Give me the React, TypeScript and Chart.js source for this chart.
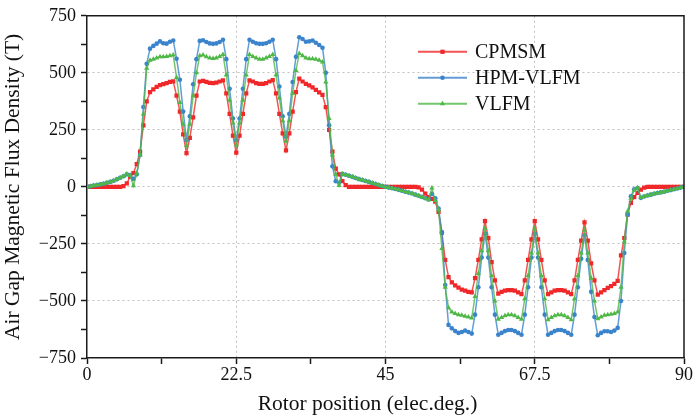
import React, { useEffect, useRef } from 'react';
import { Chart, registerables } from 'chart.js';

Chart.register(...registerables);

// Rotor position sampled every 0.5 elec.deg. from 0 to 90 (181 samples)
const angleStepDeg = 0.5;

const seriesNames = ['CPMSM', 'HPM-VLFM', 'VLFM'];

// Air gap flux density (T), 10 samples (5 deg) per row
const cpmsm = [
  0, 0, 0, 0, 0, 0, 0, 0, 0, 0,
  0, 3, 15, 45, 60, 100, 155, 270, 375, 415,
  428, 438, 446, 450, 455, 460, 463, 400, 330, 230,
  148, 215, 305, 400, 462, 465, 460, 456, 455, 457,
  462, 467, 410, 320, 225, 150, 225, 320, 410, 467,
  462, 455, 452, 452, 455, 462, 468, 410, 320, 235,
  160, 235, 330, 415, 475, 462, 452, 445, 436, 425,
  414, 403, 350, 250, 155, 80, 55, 25, 8, 0,
  0, 0, 0, 0, 0, 0, 0, 0, 0, 0,
  0, 0, 0, 0, 0, 0, 0, 0, 0, 0,
  -2, -12, -30, -45, -52, -65, -110, -200, -320, -395,
  -418, -432, -442, -450, -455, -460, -462, -400, -320, -230,
  -150, -225, -330, -410, -468, -460, -455, -452, -452, -455,
  -462, -470, -410, -320, -230, -150, -230, -320, -410, -470,
  -462, -455, -452, -452, -455, -462, -470, -410, -320, -235,
  -155, -235, -335, -410, -472, -462, -452, -443, -435, -425,
  -412, -300, -224, -121, -70, -45, -26, -12, -3, 0,
  0, 0, 0, 0, 0, 0, 0, 0, 0, 0,
  0,
];

const hpmVlfm = [
  0, 3, 6, 8, 11, 14, 18, 22, 27, 33,
  40, 47, 55, 52, 35, 55, 140, 350, 540, 606,
  618, 628, 638, 630, 628, 636, 642, 562, 470, 330,
  205, 310, 450, 560, 640, 643, 635, 629, 627, 629,
  635, 645, 560, 430, 300, 205, 300, 430, 560, 645,
  636, 630, 627, 627, 630, 636, 645, 560, 440, 310,
  220, 320, 460, 570, 656, 648, 636, 638, 642, 632,
  622, 610, 500, 270, 90, 25, 18, 57, 53, 49,
  44, 39, 34, 30, 26, 22, 17, 13, 8, 4,
  0, -3, -6, -9, -13, -17, -21, -25, -29, -34,
  -39, -44, -50, -55, -30, -50, -95, -200, -430, -605,
  -620, -632, -640, -636, -630, -636, -643, -560, -440, -310,
  -205, -310, -440, -560, -648, -640, -632, -627, -627, -632,
  -640, -648, -560, -440, -310, -205, -310, -440, -560, -648,
  -640, -632, -627, -627, -632, -640, -648, -560, -440, -315,
  -212, -320, -460, -570, -650, -640, -633, -633, -636, -630,
  -618, -500, -290, -121, -41, -10, -5, -48, -42, -38,
  -34, -30, -27, -24, -21, -17, -14, -10, -7, -3,
  0,
];

const vlfm = [
  0, 3, 6, 8, 11, 14, 18, 22, 27, 33,
  40, 47, 56, 50, 5, 60, 140, 320, 520, 555,
  560, 565, 570, 570, 572, 575, 578, 480, 370, 275,
  182, 275, 400, 500, 575, 578, 570, 565, 563, 565,
  572, 580, 490, 380, 280, 185, 280, 380, 490, 580,
  572, 565, 560, 560, 565, 572, 580, 490, 390, 290,
  200, 290, 410, 510, 585, 575, 565, 562, 562, 560,
  555, 548, 460, 300, 140, 55, 6, 57, 53, 49,
  44, 39, 34, 30, 26, 22, 17, 13, 8, 4,
  0, -3, -6, -9, -13, -17, -21, -25, -29, -34,
  -39, -44, -50, -56, -5, -60, -100, -270, -440, -530,
  -548, -555, -560, -563, -567, -570, -575, -480, -380, -280,
  -182, -280, -390, -500, -580, -572, -565, -560, -560, -565,
  -572, -580, -490, -390, -290, -185, -290, -390, -490, -582,
  -572, -565, -560, -560, -565, -572, -582, -490, -390, -290,
  -190, -290, -400, -500, -578, -570, -563, -560, -558, -555,
  -548, -440, -240, -107, -50, -15, -4, -46, -42, -38,
  -34, -30, -27, -24, -21, -17, -14, -10, -7, -3,
  0,
];

const angles = cpmsm.map((_, i) => i * angleStepDeg);

const xMin = 0;
const xMax = 90;
const xMinorStep = 11.25;
const xLabelStep = 22.5;
const yMin = -750;
const yMax = 750;
const yMinorStep = 125;
const yLabelStep = 250;

const xTitle = 'Rotor position (elec.deg.)';
const yTitle = 'Air Gap Magnetic Flux Density (T)';

const colors = ['#f0282a', '#3b84cc', '#4fb847'];
const lineColors = ['rgba(240,40,42,0.8)', 'rgba(59,132,204,0.8)', 'rgba(79,184,71,0.8)'];
const pointStyles = ['rect', 'circle', 'triangle'];
const pointRadii = [3, 2.3, 3];
const gridColor = 'rgba(185,185,185,0.9)';

const FONT = '"Liberation Serif", "Times New Roman", serif';

function drawMarker(ctx: CanvasRenderingContext2D, style: string, x: number, y: number, r: number, color: string) {
  ctx.fillStyle = color;
  ctx.beginPath();
  if (style === 'rect') {
    const s = r * Math.SQRT1_2;
    ctx.rect(x - s, y - s, 2 * s, 2 * s);
  } else if (style === 'circle') {
    ctx.arc(x, y, r, 0, Math.PI * 2);
  } else {
    ctx.moveTo(x, y - r);
    ctx.lineTo(x + r * 0.866, y + r * 0.5);
    ctx.lineTo(x - r * 0.866, y + r * 0.5);
    ctx.closePath();
  }
  ctx.fill();
}

const overlayPlugin = {
  id: 'overlay',
  afterDraw(chart: any) {
    const { ctx, chartArea } = chart;
    const { left, right, top, bottom } = chartArea;
    ctx.save();
    // frame: top & right
    ctx.strokeStyle = '#1a1a1a';
    ctx.lineWidth = 1.5;
    ctx.beginPath();
    ctx.moveTo(left, top);
    ctx.lineTo(right, top);
    ctx.lineTo(right, bottom);
    ctx.stroke();

    // x title
    ctx.fillStyle = '#111';
    ctx.font = `21.5px ${FONT}`;
    ctx.textAlign = 'center';
    ctx.textBaseline = 'middle';
    ctx.fillText(xTitle, (left + right) / 2 - 18, 404);

    // legend inside plot
    const lx0 = left + 331;
    const lx1 = left + 380;
    const ly0 = top + 36;
    const rowH = 26;
    ctx.font = `20px ${FONT}`;
    ctx.textAlign = 'left';
    seriesNames.forEach((name, i) => {
      const y = ly0 + i * rowH;
      ctx.strokeStyle = lineColors[i];
      ctx.lineWidth = 2;
      ctx.beginPath();
      ctx.moveTo(lx0, y);
      ctx.lineTo(lx1, y);
      ctx.stroke();
      drawMarker(ctx, pointStyles[i], (lx0 + lx1) / 2, y, pointRadii[i], colors[i]);
      ctx.fillStyle = '#111';
      ctx.fillText(name, lx1 + 8, y + 1);
    });
    ctx.restore();
  },
};

export default function App() {
  const canvasRef = useRef<HTMLCanvasElement | null>(null);

  useEffect(() => {
    const canvas = canvasRef.current;
    if (!canvas) return;
    const seriesData = [cpmsm, hpmVlfm, vlfm];
    const chart = new Chart(canvas, {
      type: 'line',
      data: {
        labels: angles,
        datasets: seriesData.map((d, i) => ({
          label: seriesNames[i],
          data: d,
          borderColor: lineColors[i],
          backgroundColor: colors[i],
          pointBackgroundColor: colors[i],
          pointBorderColor: colors[i],
          pointBorderWidth: 0,
          pointStyle: pointStyles[i],
          pointRadius: pointRadii[i],
          borderWidth: 1.5,
          tension: 0,
          fill: false,
          order: 3 - i,
        })),
      },
      options: {
        responsive: false,
        animation: false,
        devicePixelRatio: 1,
        layout: { padding: { left: 0, right: 9, top: 15, bottom: 0 } },
        plugins: {
          legend: { display: false },
          tooltip: { enabled: false },
        },
        scales: {
          x: {
            type: 'linear',
            min: xMin,
            max: xMax,
            afterFit: (scale: any) => {
              scale.height = 62;
            },
            ticks: {
              stepSize: xMinorStep,
              autoSkip: false,
              maxRotation: 0,
              padding: 0,
              color: '#111',
              font: { family: FONT, size: 18 },
              callback: (v: any) => {
                const n = Number(v);
                return Math.abs(n / xLabelStep - Math.round(n / xLabelStep)) < 1e-6 ? String(n) : '';
              },
            },
            grid: {
              color: (c: any) => {
                const v = c.tick ? c.tick.value : 0;
                const major = Math.abs(v / xLabelStep - Math.round(v / xLabelStep)) < 1e-6;
                return major && v !== xMin && v !== xMax ? gridColor : 'rgba(0,0,0,0)';
              },
              lineWidth: 1,
              tickColor: '#1a1a1a',
              tickWidth: 1.5,
              tickLength: 6,
            },
            border: { display: true, color: '#1a1a1a', width: 1.5, dash: [2, 3] },
            title: { display: false },
          },
          y: {
            type: 'linear',
            min: yMin,
            max: yMax,
            afterFit: (scale: any) => {
              scale.width = 87;
            },
            ticks: {
              stepSize: yMinorStep,
              autoSkip: false,
              padding: 5,
              color: '#111',
              font: { family: FONT, size: 18 },
              callback: (v: any) => {
                const n = Number(v);
                if (n % yLabelStep !== 0) return '';
                return n < 0 ? '\u2212' + Math.abs(n) : String(n);
              },
            },
            grid: {
              color: (c: any) => {
                const v = c.tick ? c.tick.value : 0;
                return v % yLabelStep === 0 && v !== yMin && v !== yMax ? gridColor : 'rgba(0,0,0,0)';
              },
              lineWidth: 1,
              tickColor: '#1a1a1a',
              tickWidth: 1.5,
              tickLength: 6,
            },
            border: { display: true, color: '#1a1a1a', width: 1.5, dash: [2, 3] },
            title: {
              display: true,
              text: yTitle,
              color: '#111',
              font: { family: FONT, size: 21.5 },
              padding: { top: 0, bottom: 0 },
            },
          },
        },
      },
      plugins: [overlayPlugin],
    } as any);
    return () => chart.destroy();
  }, []);

  return (
    <div style={{ position: 'fixed', left: 0, top: 0, width: 693, height: 420, background: '#fff' }}>
      <canvas ref={canvasRef} width={693} height={420} style={{ display: 'block' }} />
    </div>
  );
}
